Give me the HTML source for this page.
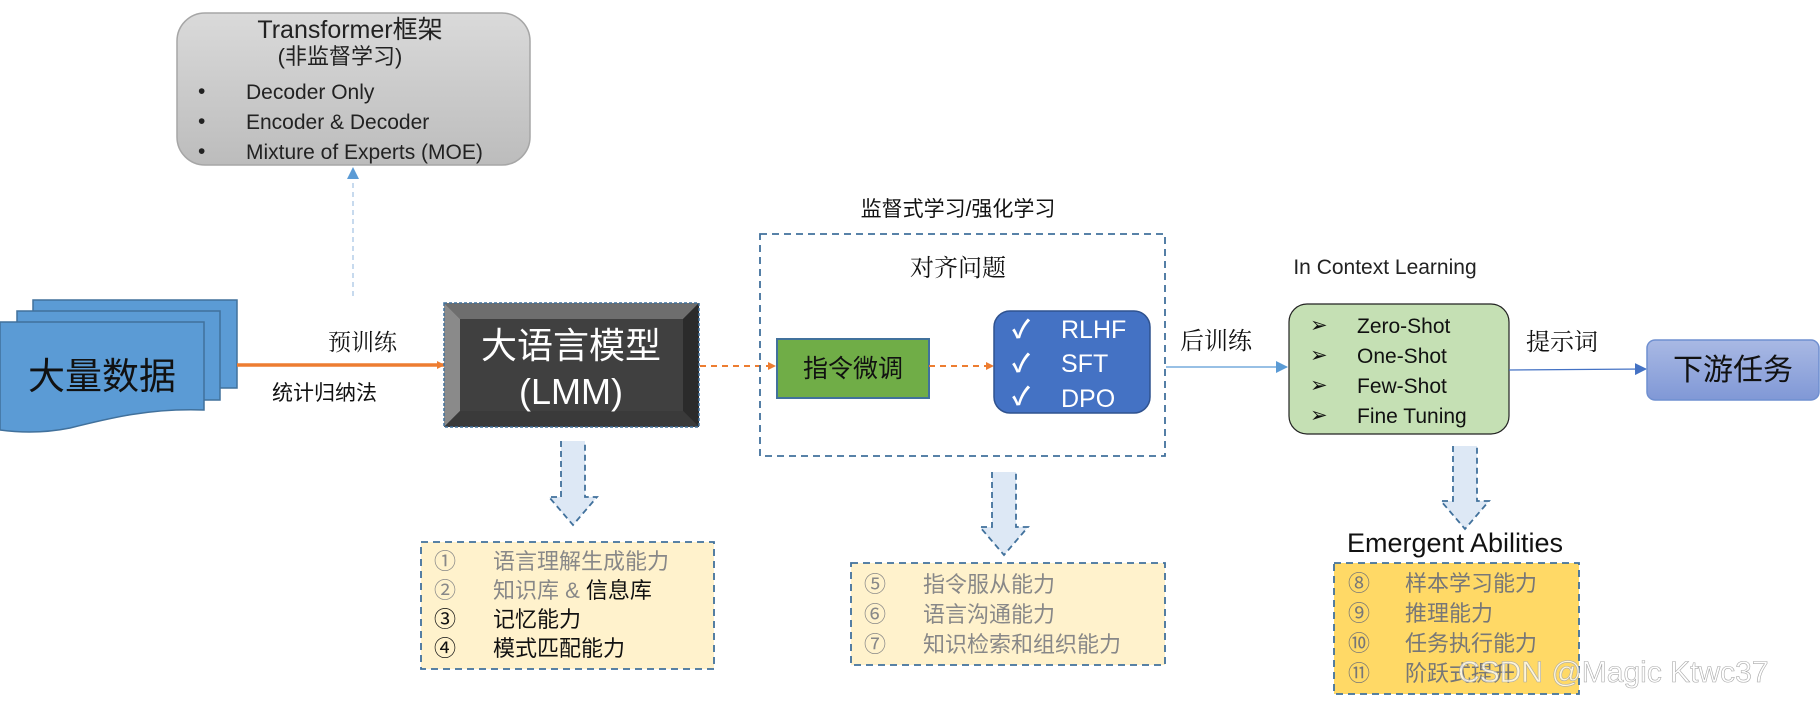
<!DOCTYPE html>
<html><head><meta charset="utf-8"><style>
html,body{margin:0;padding:0;background:#fff;}
svg{display:block}
text{font-family:"Liberation Sans","Noto Sans CJK SC",sans-serif;}
.k{font-family:"Noto Serif CJK SC","Liberation Serif",serif;}
</style></head><body>
<svg width="1820" height="704" viewBox="0 0 1820 704" xmlns="http://www.w3.org/2000/svg">
<defs>
<linearGradient id="gg" x1="0" y1="0" x2="0" y2="1"><stop offset="0" stop-color="#dadada"/><stop offset="1" stop-color="#bcbcbc"/></linearGradient>
<linearGradient id="bg" x1="0" y1="0" x2="0" y2="1"><stop offset="0" stop-color="#a9b9e4"/><stop offset="1" stop-color="#8098d6"/></linearGradient>
<marker id="ao" markerWidth="8" markerHeight="8" refX="7" refY="4" orient="auto" markerUnits="userSpaceOnUse"><path d="M0,0 L8,4 L0,8z" fill="#ed7d31"/></marker>
<marker id="ab" markerWidth="12" markerHeight="12" refX="11" refY="6" orient="auto" markerUnits="userSpaceOnUse"><path d="M0,0 L12,6 L0,12z" fill="#5b9bd5"/></marker>
<marker id="ab2" markerWidth="12" markerHeight="12" refX="11" refY="6" orient="auto" markerUnits="userSpaceOnUse"><path d="M0,0 L12,6 L0,12z" fill="#4472c4"/></marker>
</defs>

<rect x="177" y="13" width="353" height="152" rx="28" fill="url(#gg)" stroke="#a6a6a6" stroke-width="1.5"/>
<text x="350" y="38" font-size="25" text-anchor="middle" fill="#222">Transformer框架</text>
<text x="340" y="64" font-size="22" text-anchor="middle" fill="#222">(非监督学习)</text>
<g font-size="21" fill="#222">
<text x="198" y="98">•</text><text x="246" y="99">Decoder Only</text>
<text x="198" y="128">•</text><text x="246" y="129">Encoder &amp; Decoder</text>
<text x="198" y="158">•</text><text x="246" y="159">Mixture of Experts (MOE)</text>
</g>
<line x1="353" y1="296" x2="353" y2="168" stroke="#8fb4dc" stroke-width="1" stroke-dasharray="5,4" marker-end="url(#ab)"/>

<rect x="33" y="300" width="204" height="88" fill="#5b9bd5" stroke="#41719c" stroke-width="1.5"/>
<rect x="17" y="311" width="203" height="89" fill="#5b9bd5" stroke="#41719c" stroke-width="1.5"/>
<path d="M0,322 L204,322 L204,410 C150,408 110,418 70,428 C40,434 15,432 0,430 Z" fill="#5b9bd5" stroke="#41719c" stroke-width="1.5"/>
<text x="102" y="389" font-size="37" text-anchor="middle" fill="#111">大量数据</text>

<line x1="237" y1="365" x2="444" y2="365" stroke="#ed7d31" stroke-width="3.5" marker-end="url(#ao)"/>
<text x="328" y="350" font-size="23" class="k" fill="#111">预训练</text>
<text x="272" y="400" font-size="21" fill="#111">统计归纳法</text>

<rect x="444" y="303" width="255" height="124" fill="#404040"/>
<polygon points="444,303 699,303 683,319 460,319" fill="#6e6e6e"/>
<polygon points="444,303 460,319 460,411 444,427" fill="#8a8a8a"/>
<polygon points="699,303 683,319 683,411 699,427" fill="#2b2b2b"/>
<polygon points="444,427 460,411 683,411 699,427" fill="#3a3a3a"/>
<rect x="444" y="303" width="255" height="124" fill="none" stroke="#41719c" stroke-width="1.5" stroke-dasharray="3,2"/>
<text x="571" y="358" font-size="36" text-anchor="middle" fill="#fff">大语言模型</text>
<text x="571" y="404" font-size="36" text-anchor="middle" fill="#fff">(LMM)</text>

<line x1="700" y1="366" x2="775" y2="366" stroke="#ed7d31" stroke-width="2" stroke-dasharray="6,5" marker-end="url(#ao)"/>

<text x="958" y="216" font-size="21" text-anchor="middle" fill="#111">监督式学习/强化学习</text>
<rect x="760" y="234" width="405" height="222" fill="none" stroke="#41719c" stroke-width="1.8" stroke-dasharray="7,5"/>
<text x="958" y="276" font-size="24" class="k" text-anchor="middle" fill="#111">对齐问题</text>
<rect x="777" y="339" width="152" height="59" fill="#70ad47" stroke="#41719c" stroke-width="2"/>
<text x="853" y="377" font-size="25" text-anchor="middle" fill="#111">指令微调</text>
<line x1="929" y1="366" x2="993" y2="366" stroke="#ed7d31" stroke-width="2" stroke-dasharray="6,5" marker-end="url(#ao)"/>
<rect x="994" y="311" width="156" height="102" rx="16" fill="#4472c4" stroke="#2f528f" stroke-width="1.5"/>
<g font-size="25" fill="#fff">
<text x="1012" y="338" font-weight="bold">✓</text><text x="1061" y="338">RLHF</text>
<text x="1012" y="372" font-weight="bold">✓</text><text x="1061" y="372">SFT</text>
<text x="1012" y="405" font-weight="bold">✓</text><text x="1061" y="407">DPO</text>
</g>

<line x1="1166" y1="367" x2="1287" y2="367" stroke="#5b9bd5" stroke-width="1.2" marker-end="url(#ab)"/>
<text x="1180" y="349" font-size="24" class="k" fill="#111">后训练</text>

<text x="1385" y="274" font-size="21" text-anchor="middle" fill="#222">In Context Learning</text>
<rect x="1289" y="304" width="220" height="130" rx="18" fill="#c5e0b4" stroke="#222" stroke-width="1.2"/>
<g font-size="21" fill="#111">
<text x="1310" y="332">➢</text><text x="1357" y="333">Zero-Shot</text>
<text x="1310" y="362">➢</text><text x="1357" y="363">One-Shot</text>
<text x="1310" y="392">➢</text><text x="1357" y="393">Few-Shot</text>
<text x="1310" y="422">➢</text><text x="1357" y="423">Fine Tuning</text>
</g>
<line x1="1509" y1="370" x2="1646" y2="369" stroke="#4472c4" stroke-width="1.2" marker-end="url(#ab2)"/>
<text x="1526" y="350" font-size="24" class="k" fill="#111">提示词</text>
<rect x="1647" y="340" width="172" height="60" rx="8" fill="url(#bg)" stroke="#6f8fd0" stroke-width="1.5"/>
<text x="1733" y="380" font-size="30" text-anchor="middle" fill="#111">下游任务</text>

<g fill="#dde8f5" stroke="#41719c" stroke-width="1.8" stroke-dasharray="6,4">
<path d="M561,441 L561,497 L549,497 L573,525 L597,497 L585,497 L585,441"/>
<path d="M992,472 L992,527 L980,527 L1004,555 L1028,527 L1016,527 L1016,472"/>
<path d="M1453,446 L1453,501 L1441,501 L1465,529 L1489,501 L1477,501 L1477,446"/>
</g>

<rect x="421" y="542" width="293" height="127" fill="#fff2cc" stroke="#41719c" stroke-width="1.8" stroke-dasharray="7,5"/>
<g font-size="22">
<text x="434" y="569" fill="#888">①</text><text x="493" y="569" fill="#888">语言理解生成能力</text>
<text x="434" y="598" fill="#888">②</text><text x="493" y="598"><tspan fill="#888">知识库 &amp; </tspan><tspan fill="#111">信息库</tspan></text>
<text x="434" y="627" fill="#111">③</text><text x="493" y="627" fill="#111">记忆能力</text>
<text x="434" y="656" fill="#111">④</text><text x="493" y="656" fill="#111">模式匹配能力</text>
</g>

<rect x="851" y="563" width="314" height="102" fill="#fff2cc" stroke="#41719c" stroke-width="1.8" stroke-dasharray="7,5"/>
<g font-size="22" fill="#888">
<text x="864" y="592">⑤</text><text x="923" y="592">指令服从能力</text>
<text x="864" y="622">⑥</text><text x="923" y="622">语言沟通能力</text>
<text x="864" y="652">⑦</text><text x="923" y="652">知识检索和组织能力</text>
</g>

<text x="1455" y="552" font-size="27" text-anchor="middle" fill="#111">Emergent Abilities</text>
<rect x="1334" y="563" width="245" height="131" fill="#ffd966" stroke="#41719c" stroke-width="1.8" stroke-dasharray="7,5"/>
<g font-size="22" fill="#777">
<text x="1348" y="591">⑧</text><text x="1405" y="591">样本学习能力</text>
<text x="1348" y="621">⑨</text><text x="1405" y="621">推理能力</text>
<text x="1348" y="651">⑩</text><text x="1405" y="651">任务执行能力</text>
<text x="1348" y="681">⑪</text><text x="1405" y="681">阶跃式提升</text>
</g>
<text x="1458" y="682" font-size="30" fill="#ffffff" fill-opacity="0.75" stroke="#aaa" stroke-width="0.6">CSDN @Magic Ktwc37</text>
</svg>
</body></html>
